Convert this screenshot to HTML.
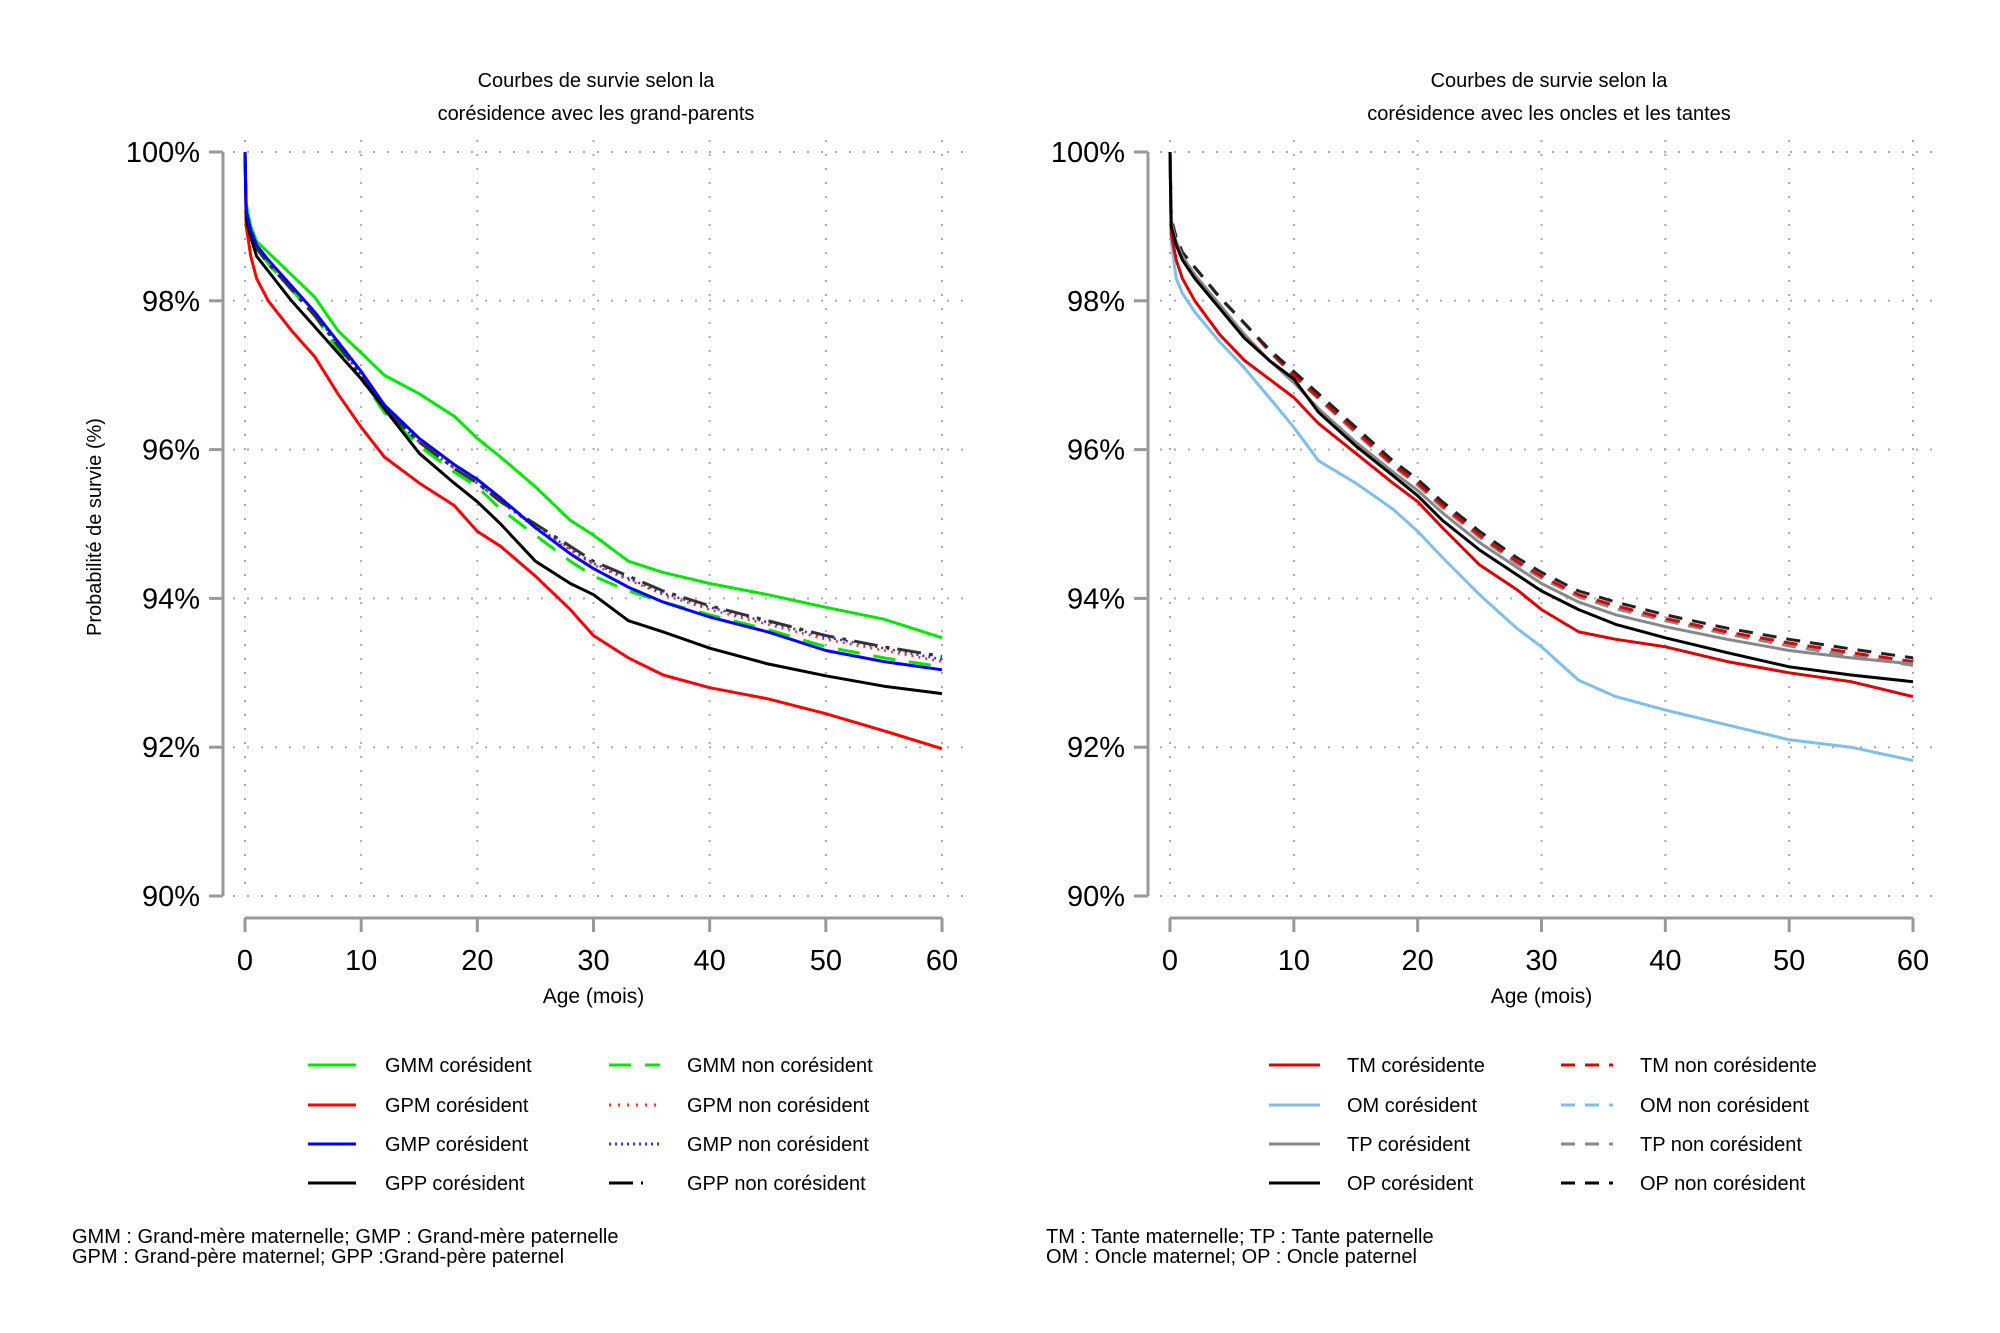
<!DOCTYPE html>
<html><head><meta charset="utf-8"><style>
body{margin:0;background:#fff;}
svg{display:block;font-family:"Liberation Sans",sans-serif;}
</style></head><body>
<svg id="chart" width="2000" height="1333" viewBox="0 0 2000 1333"></svg>
<script>
const months=[0,0.1,0.5,1,2,4,6,8,10,12,15,18,20,22,25,28,30,33,36,40,45,50,55,60];
const xTicks=[0,10,20,30,40,50,60];
const yTicks=[90,92,94,96,98,100];
const yTickLabels=["90%","92%","94%","96%","98%","100%"];
// left panel series
const gmmCo=[100,99.3,99.0,98.8,98.65,98.35,98.05,97.6,97.3,97.0,96.75,96.45,96.15,95.9,95.5,95.05,94.85,94.5,94.35,94.2,94.05,93.88,93.72,93.47];
const gpmCo=[100,99.0,98.6,98.3,98.0,97.6,97.25,96.75,96.3,95.9,95.55,95.25,94.9,94.7,94.3,93.85,93.5,93.2,92.97,92.8,92.65,92.45,92.22,91.98];
const gmpCo=[100,99.2,98.95,98.75,98.55,98.2,97.85,97.45,97.05,96.6,96.15,95.8,95.6,95.35,94.95,94.6,94.4,94.15,93.95,93.75,93.55,93.3,93.15,93.04];
const gppCo=[100,99.1,98.85,98.6,98.4,98.0,97.65,97.3,96.95,96.55,95.95,95.55,95.3,95.0,94.5,94.2,94.05,93.7,93.55,93.33,93.12,92.96,92.82,92.72];
const gmmNon=[100,99.2,98.9,98.7,98.5,98.15,97.8,97.35,96.95,96.5,96.05,95.7,95.5,95.2,94.85,94.5,94.3,94.1,93.95,93.78,93.58,93.35,93.2,93.08];
const gpmNon=[100,99.2,98.95,98.75,98.55,98.2,97.85,97.4,97.0,96.55,96.1,95.75,95.55,95.3,94.95,94.65,94.45,94.25,94.05,93.85,93.65,93.45,93.3,93.15];
const gmpNon=[100,99.2,98.95,98.75,98.55,98.2,97.85,97.4,97.0,96.55,96.1,95.75,95.55,95.3,94.97,94.67,94.47,94.27,94.07,93.88,93.68,93.48,93.33,93.18];
const gppNon=[100,99.2,98.9,98.7,98.5,98.15,97.8,97.4,97.0,96.55,96.1,95.75,95.55,95.3,95.0,94.7,94.5,94.3,94.1,93.9,93.7,93.5,93.35,93.22];
// right panel series
const tmCo=[100,98.9,98.55,98.3,98.0,97.55,97.2,96.95,96.7,96.35,95.95,95.55,95.3,94.95,94.45,94.12,93.85,93.55,93.45,93.35,93.15,93.0,92.88,92.68];
const omCo=[100,98.8,98.3,98.1,97.85,97.45,97.1,96.7,96.3,95.85,95.55,95.2,94.9,94.55,94.05,93.6,93.35,92.9,92.68,92.5,92.3,92.1,92.0,91.82];
const tpCo=[100,99.05,98.8,98.6,98.35,97.95,97.55,97.2,96.9,96.55,96.1,95.7,95.45,95.15,94.75,94.42,94.2,93.95,93.78,93.62,93.45,93.3,93.2,93.12];
const opCo=[100,99.0,98.75,98.55,98.3,97.9,97.5,97.2,96.95,96.5,96.05,95.65,95.38,95.05,94.65,94.32,94.1,93.85,93.65,93.47,93.27,93.08,92.97,92.88];
const tmNon=[100,99.1,98.85,98.65,98.45,98.05,97.7,97.33,97.0,96.7,96.25,95.8,95.55,95.25,94.85,94.5,94.3,94.05,93.9,93.73,93.55,93.4,93.27,93.15];
const omNon=[100,99.1,98.85,98.65,98.45,98.05,97.7,97.33,97.0,96.7,96.25,95.8,95.55,95.25,94.85,94.5,94.3,94.05,93.9,93.73,93.55,93.4,93.27,93.14];
const tpNon=[100,99.1,98.85,98.65,98.45,98.05,97.7,97.32,96.99,96.68,96.22,95.78,95.52,95.22,94.82,94.47,94.27,94.02,93.86,93.7,93.52,93.36,93.23,93.1];
const opNon=[100,99.1,98.85,98.65,98.45,98.05,97.7,97.35,97.05,96.75,96.3,95.85,95.6,95.3,94.9,94.55,94.35,94.1,93.95,93.78,93.6,93.45,93.32,93.2];

const NS="http://www.w3.org/2000/svg";
const svg=document.getElementById('chart');
function el(tag,attrs,parent,text){const e=document.createElementNS(NS,tag);for(const k in attrs)e.setAttribute(k,attrs[k]);if(text!==undefined)e.textContent=text;(parent||svg).appendChild(e);return e;}

const panels=[
 {x0:245,x60:942,yAxisX:223,gridL:233,gridR:968,cx:596,title:["Courbes de survie selon la","corésidence avec les grand-parents"],
  series:[
   [gmmCo,'#00e600','',3,'gmm-coresident-line'],
   [gmmNon,'#00e600','22 14',3,'gmm-non-coresident-line'],
   [gpmNon,'#ff3030','2 5',2.5,'gpm-non-coresident-line'],
   [gmpNon,'#3030ff','2 4',2.5,'gmp-non-coresident-line'],
   [gppNon,'#333','24 8 4 8',3,'gpp-non-coresident-line'],
   [gpmCo,'#ff0000','',3,'gpm-coresident-line'],
   [gppCo,'#000','',3,'gpp-coresident-line'],
   [gmpCo,'#0000ff','',3,'gmp-coresident-line']]},
 {x0:1170,x60:1913,yAxisX:1148,gridL:1160,gridR:1940,cx:1549,title:["Courbes de survie selon la","corésidence avec les oncles et les tantes"],
  series:[
   [omNon,'#7fbfe8','14 10',3,'om-non-coresident-line'],
   [tpNon,'#888','14 10',3,'tp-non-coresident-line'],
   [tmNon,'#dd0000','14 10',3,'tm-non-coresident-line'],
   [opNon,'#222','14 10',3,'op-non-coresident-line'],
   [omCo,'#7fbfe8','',3,'om-coresident-line'],
   [tmCo,'#dd0000','',3,'tm-coresident-line'],
   [tpCo,'#888','',3,'tp-coresident-line'],
   [opCo,'#000','',3,'op-coresident-line']]}
];
const yTop=152,yBot=896;
function yS(v){return yBot-(v-90)/10*(yBot-yTop);}

panels.forEach((p,pi)=>{
 const xS=m=>p.x0+m/60*(p.x60-p.x0);
 const g=el('g',{});
 
 
 p.title.forEach((t,i)=>{const tt=el('text',{x:p.cx,y:87+i*33,'text-anchor':'middle','font-size':20},g,t);
  });
 xTicks.forEach(t=>{const l=el('line',{x1:xS(t),x2:xS(t),y1:140,y2:yBot,stroke:'#aaa','stroke-width':2,'stroke-dasharray':'2 12'},g);
  });
 yTicks.forEach(t=>{const l=el('line',{x1:p.gridL,x2:p.gridR,y1:yS(t),y2:yS(t),stroke:'#aaa','stroke-width':2,'stroke-dasharray':'2 12'},g);
  });
 const ya=el('line',{x1:p.yAxisX,x2:p.yAxisX,y1:yTop,y2:yBot,stroke:'#999','stroke-width':3},g);
 
 yTicks.forEach((t,i)=>{el('line',{x1:p.yAxisX-14,x2:p.yAxisX,y1:yS(t),y2:yS(t),stroke:'#999','stroke-width':3},g);
  const tl=el('text',{x:p.yAxisX-23,y:yS(t)+10,'text-anchor':'end','font-size':29},g,yTickLabels[i]);
  });
 const xa=el('line',{x1:xS(0),x2:xS(60),y1:918,y2:918,stroke:'#999','stroke-width':3},g);
 
 xTicks.forEach(t=>{el('line',{x1:xS(t),x2:xS(t),y1:918,y2:932,stroke:'#999','stroke-width':3},g);
  const tl=el('text',{x:xS(t),y:970,'text-anchor':'middle','font-size':29},g,String(t));
  });
 const xt=el('text',{x:(xS(0)+xS(60))/2,y:1003,'text-anchor':'middle','font-size':21},g,'Age (mois)');
 
 p.series.forEach(s=>{
  const pts=s[0].map((v,i)=>xS(months[i]).toFixed(1)+','+yS(v).toFixed(1));
  const pl=el('polyline',{points:pts.join(' '),fill:'none',stroke:s[1],'stroke-width':s[3],'stroke-dasharray':s[2],'stroke-linejoin':'round'},g);
  
  
 });
});
const yt=el('text',{x:0,y:0,transform:'translate(101,527) rotate(-90)','text-anchor':'middle','font-size':20},svg,'Probabilité de survie (%)');



const legends=[
 {lx1:308,lx2:356,tx1:385,lx3:609,lx4:660,tx2:687,rows:[
  ['GMM corésident','#00e600','','GMM non corésident','#00e600','22 14'],
  ['GPM corésident','#ff0000','','GPM non corésident','#ff3030','2 7'],
  ['GMP corésident','#0000ff','','GMP non corésident','#3030ff','2 4'],
  ['GPP corésident','#000','','GPP non corésident','#000','24 8 2 30']]},
 {lx1:1269,lx2:1320,tx1:1347,lx3:1561,lx4:1613,tx2:1640,rows:[
  ['TM corésidente','#dd0000','','TM non corésidente','#dd0000','14 10'],
  ['OM corésident','#7fbfe8','','OM non corésident','#7fbfe8','14 10'],
  ['TP corésident','#888','','TP non corésident','#888','14 10'],
  ['OP corésident','#000','','OP non corésident','#000','14 10']]}
];
const rowY=[1065,1105,1144,1183];
legends.forEach(L=>{
 L.rows.forEach((r,i)=>{
  const y=rowY[i];
  el('line',{x1:L.lx1,x2:L.lx2,y1:y,y2:y,stroke:r[1],'stroke-width':3});
  const t1=el('text',{x:L.tx1,y:y+7,'font-size':20},svg,r[0]);
  
  
  el('line',{x1:L.lx3,x2:L.lx4,y1:y,y2:y,stroke:r[4],'stroke-width':3,'stroke-dasharray':r[5]});
  const t2=el('text',{x:L.tx2,y:y+7,'font-size':20},svg,r[3]);
  
  
 });
});
const notes=[[72,1243,'GMM : Grand-mère maternelle; GMP : Grand-mère paternelle'],[72,1263,'GPM : Grand-père maternel; GPP :Grand-père paternel'],
 [1046,1243,'TM : Tante maternelle; TP : Tante paternelle'],[1046,1263,'OM : Oncle maternel; OP : Oncle paternel']];
notes.forEach(n=>{const t=el('text',{x:n[0],y:n[1],'font-size':20},svg,n[2]);
 
 });
</script>
</body></html>
